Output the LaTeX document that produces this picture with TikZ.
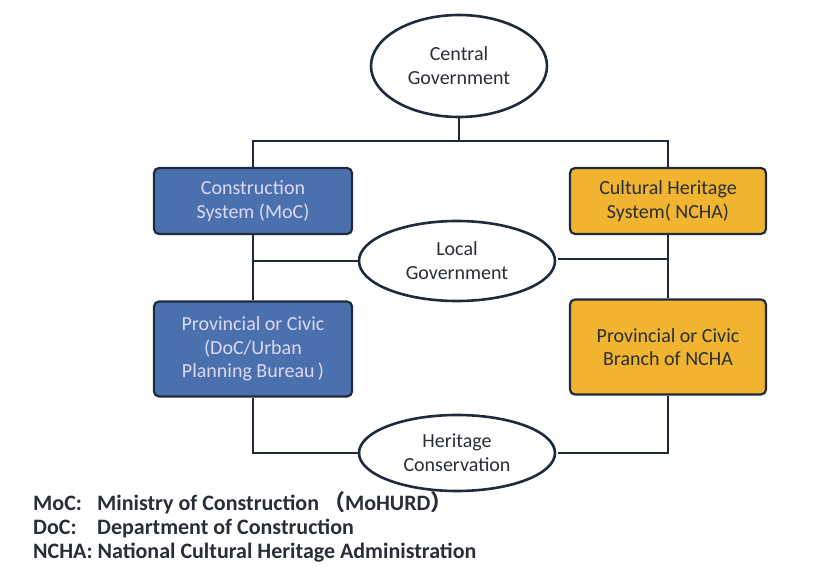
\documentclass[tikz,border=0pt]{standalone}
\usepackage{fontspec}
\setmainfont{Carlito}
\newfontfamily\cjk{Noto Sans CJK SC}
\usetikzlibrary{shapes.geometric}
\definecolor{lineC}{HTML}{1F2B3A}
\definecolor{blueF}{HTML}{4A71AE}
\definecolor{blueT}{HTML}{DCD8F2}
\definecolor{orangeF}{HTML}{F0B430}
\definecolor{textC}{HTML}{2A2E36}
\begin{document}
\begin{tikzpicture}[x=1pt,y=-1pt,
  conn/.style={draw=lineC,line width=2.6pt},
  oval/.style={ellipse,draw=lineC,line width=2.6pt,fill=white,inner sep=0pt,text=textC,font=\fontsize{20}{24}\selectfont,align=center},
  bluebox/.style={draw=lineC,line width=2.2pt,rounded corners=5pt,fill=blueF,text=blueT,font=\fontsize{20}{23.5}\selectfont,align=center,inner sep=0pt},
  orbox/.style={draw=lineC,line width=2.2pt,rounded corners=5pt,fill=orangeF,text=textC,font=\fontsize{20}{23.5}\selectfont,align=center,inner sep=0pt},
  legend/.style={anchor=base west,inner sep=0pt,text=textC,font=\fontsize{22}{24}\selectfont\bfseries}]
\useasboundingbox[fill=white] (0,0) rectangle (825,575);
% nodes
\node[oval,minimum width=176pt,minimum height=102pt] (cg) at (459,66) {Central\\Government};
\node[bluebox,minimum width=198pt,minimum height=66pt] (cs) at (253,201) {Construction\\System (MoC)};
\node[orbox,minimum width=196pt,minimum height=66pt] (ch) at (668,201) {Cultural Heritage\\System( NCHA)};
\node[bluebox,minimum width=198pt,minimum height=95pt] (pb) at (253,349) {Provincial or Civic\\(DoC/Urban\\Planning Bureau\,)};
\node[orbox,minimum width=196pt,minimum height=95pt] (po) at (668,347) {Provincial or Civic\\Branch of NCHA};
\coordinate (top) at (459,141);
\coordinate (tl) at (253,141);
\coordinate (tr) at (668,141);
\coordinate (ml) at (253,261);
\coordinate (mr) at (668,259);
\coordinate (bl) at (253,453);
\coordinate (br) at (668,453);
% connectors (behind ellipses)
\draw[conn] (cg.south) -- (top);
\draw[conn,line cap=rect] (tl) -- (tr);
\draw[conn] (tl) -- (cs.north);
\draw[conn] (tr) -- (ch.north);
\draw[conn] (cs.south) -- (pb.north);
\draw[conn] (ch.south) -- (po.north);
\draw[conn] (pb.south) -- (bl) -- ++(110,0) coordinate (blx);
\draw[conn] (po.south) -- (br) -- ++(-110,0) coordinate (brx);
\draw[conn] (ml) -- ++(110,0) coordinate (mlx);
\draw[conn] (mr) -- ++(-110,0) coordinate (mrx);
\node[oval,minimum width=196pt,minimum height=80pt] (lg) at (457,261) {Local\\Government};
\node[oval,minimum width=196pt,minimum height=76pt] (hc) at (457,453) {Heritage\\Conservation};
% legend
\node[legend] (l1) at (33,510) {MoC:};
\node[legend] (l1b) at (97,510) {Ministry of Construction\hspace{4pt}{\cjk （}MoHURD{\cjk ）}};
\node[legend] (l2) at (33,534) {DoC:};
\node[legend] (l2b) at (97,534) {Department of Construction};
\node[legend] (l3) at (33,558) {NCHA: National Cultural Heritage Administration};
\end{tikzpicture}
\end{document}
